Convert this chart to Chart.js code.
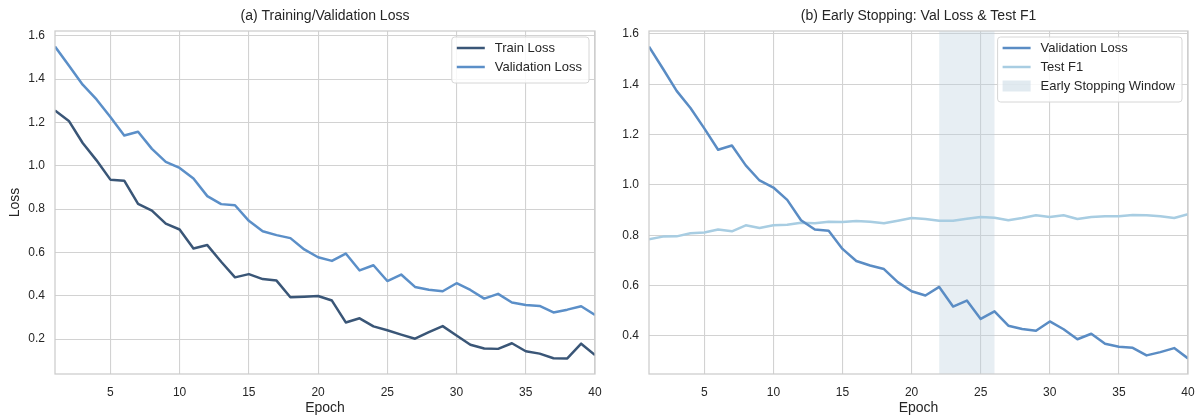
<!DOCTYPE html>
<html lang="en">
<head>
<meta charset="UTF-8">
<title>Training / Early Stopping</title>
<script src="https://cdn.jsdelivr.net/npm/chart.js"></script>
<style>
  html, body { margin: 0; padding: 0; background: #fff; }
  #wrap { position: relative; width: 1198px; height: 416px; overflow: hidden; }
  canvas { position: absolute; top: 0; }
  #chartA { left: 0; }
  #chartB { left: 598px; }
</style>
</head>
<body>
<div id="wrap">
  <canvas id="chartA" width="612" height="416"></canvas>
  <canvas id="chartB" width="600" height="416"></canvas>
</div>
<script>
// data
const epochs = [1,2,3,4,5,6,7,8,9,10,11,12,13,14,15,16,17,18,19,20,
                21,22,23,24,25,26,27,28,29,30,31,32,33,34,35,36,37,38,39,40];
const trainLoss = [1.255,1.207,1.105,1.025,0.936,0.931,0.824,0.793,0.733,0.706,
                   0.618,0.634,0.557,0.485,0.500,0.477,0.470,0.393,0.396,0.399,
                   0.378,0.277,0.296,0.259,0.241,0.221,0.202,0.232,0.260,0.217,
                   0.174,0.157,0.155,0.181,0.144,0.133,0.112,0.111,0.179,0.126];
const valLoss = [1.550,1.463,1.374,1.306,1.225,1.140,1.157,1.078,1.018,0.990,
                 0.941,0.860,0.823,0.818,0.746,0.698,0.680,0.666,0.614,0.578,
                 0.561,0.595,0.517,0.541,0.468,0.498,0.441,0.428,0.421,0.458,
                 0.427,0.387,0.409,0.369,0.357,0.353,0.323,0.336,0.352,0.311];
const testF1 = [0.784,0.795,0.796,0.808,0.811,0.823,0.816,0.840,0.829,0.840,
                0.842,0.850,0.848,0.854,0.853,0.857,0.854,0.848,0.858,0.869,
                0.865,0.858,0.858,0.866,0.873,0.870,0.860,0.869,0.880,0.873,
                0.880,0.865,0.873,0.876,0.876,0.881,0.880,0.876,0.869,0.884];
const stopWindow = [22, 26];
const xTicks = [5, 10, 15, 20, 25, 30, 35, 40];
const yTicksA = [0.2, 0.4, 0.6, 0.8, 1.0, 1.2, 1.4, 1.6];
const yTicksB = [0.4, 0.6, 0.8, 1.0, 1.2, 1.4, 1.6];

const FONT = 'Arial, "Liberation Sans", sans-serif';
const TXT = '#262626';
const GRID = '#d2d2d2';
const C_TRAIN = '#3a5677';
const C_VAL = '#5b8fc8';
const C_VAL_B = '#5a8cc4';
const C_F1 = '#a8cde2';
const C_SPAN = 'rgba(188,208,222,0.36)';

function pts(ys) { return ys.map((y, i) => ({ x: epochs[i], y: y })); }

// matplotlib style autoscale: 5% margin around the data
function padRange(arrs) {
  const all = [].concat(...arrs);
  const lo = Math.min(...all), hi = Math.max(...all);
  const m = (hi - lo) * 0.05;
  return [lo - m, hi + m];
}

// frame, span, titles and an in-axes legend, drawn matplotlib-like
const decor = {
  id: 'decor',
  beforeDatasetsDraw(chart, args, o) {
    const { ctx, chartArea: a, scales: { x } } = chart;
    if (o.span) {
      const x0 = x.getPixelForValue(o.span[0]);
      const x1 = x.getPixelForValue(o.span[1]);
      ctx.save();
      ctx.fillStyle = C_SPAN;
      ctx.fillRect(x0, a.top, x1 - x0, a.bottom - a.top);
      ctx.restore();
    }
  },
  afterDraw(chart, args, o) {
    const { ctx, chartArea: a } = chart;
    ctx.save();
    ctx.strokeStyle = '#cccccc';
    ctx.lineWidth = 1.25;
    ctx.strokeRect(a.left, a.top, a.right - a.left, a.bottom - a.top);

    ctx.fillStyle = TXT;
    ctx.font = '14px ' + FONT;
    ctx.textAlign = 'center';
    ctx.textBaseline = 'middle';
    ctx.fillText(o.title, (a.left + a.right) / 2, 16);
    ctx.fillText('Epoch', (a.left + a.right) / 2, 408);
    if (o.yTitle) {
      ctx.save();
      ctx.translate(15, (a.top + a.bottom) / 2);
      ctx.rotate(-Math.PI / 2);
      ctx.fillText(o.yTitle, 0, 0);
      ctx.restore();
    }

    // legend
    ctx.font = '13px ' + FONT;
    const w = Math.max(...o.items.map(it => ctx.measureText(it.label).width));
    const bw = 5 + 28 + 10 + w + 7;
    const bh = 8 + o.items.length * 19;
    const bx = a.right - 6 - bw, by = a.top + 6;
    ctx.beginPath();
    ctx.roundRect(bx, by, bw, bh, 3);
    ctx.fillStyle = 'rgba(255,255,255,0.85)';
    ctx.fill();
    ctx.strokeStyle = '#d6d6d6';
    ctx.lineWidth = 1;
    ctx.stroke();
    o.items.forEach((it, i) => {
      const cy = by + 11 + i * 19;
      if (it.patch) {
        ctx.fillStyle = it.color;
        ctx.fillRect(bx + 5, cy - 5.5, 28, 11);
      } else {
        ctx.strokeStyle = it.color;
        ctx.lineWidth = 2.5;
        ctx.beginPath();
        ctx.moveTo(bx + 5, cy);
        ctx.lineTo(bx + 33, cy);
        ctx.stroke();
      }
      ctx.fillStyle = TXT;
      ctx.textAlign = 'left';
      ctx.fillText(it.label, bx + 43, cy + 0.5);
    });
    ctx.restore();
  }
};

function lineSet(label, ys, color) {
  return {
    label: label, data: pts(ys), borderColor: color, backgroundColor: color,
    borderWidth: 2.5, pointRadius: 0, tension: 0, borderJoinStyle: 'round'
  };
}

function makeOptions(yRange, yTicks, yWidth, padRight, deco) {
  return {
    responsive: false,
    animation: false,
    layout: { padding: { top: 31, right: padRight, bottom: 0, left: 0 } },
    plugins: { legend: { display: false }, tooltip: { enabled: false }, decor: deco },
    scales: {
      x: {
        type: 'linear', min: 1, max: 40,
        afterBuildTicks: s => { s.ticks = xTicks.map(v => ({ value: v })); },
        // fixed axis band; label overflow handled by the layout padding
        afterFit: s => { s.height = 42; s.paddingLeft = 0; s.paddingRight = 0; },
        grid: { color: GRID, lineWidth: 1.1, drawTicks: false },
        border: { display: false },
        ticks: { color: TXT, font: { size: 12, family: FONT }, padding: 11, maxRotation: 0 }
      },
      y: {
        type: 'linear', min: yRange[0], max: yRange[1],
        afterBuildTicks: s => { s.ticks = yTicks.map(v => ({ value: v })); },
        afterFit: s => { s.width = yWidth; },
        grid: { color: GRID, lineWidth: 1.1, drawTicks: false },
        border: { display: false },
        ticks: { color: TXT, font: { size: 12, family: FONT }, padding: 10,
                 callback: v => Number(v).toFixed(1) }
      }
    }
  };
}

new Chart(document.getElementById('chartA'), {
  type: 'line',
  data: { datasets: [lineSet('Train Loss', trainLoss, C_TRAIN), lineSet('Validation Loss', valLoss, C_VAL)] },
  options: makeOptions(padRange([trainLoss, valLoss]), yTicksA, 55, 17, {
    title: '(a) Training/Validation Loss',
    yTitle: 'Loss',
    items: [{ label: 'Train Loss', color: C_TRAIN }, { label: 'Validation Loss', color: C_VAL }]
  }),
  plugins: [decor]
});

new Chart(document.getElementById('chartB'), {
  type: 'line',
  data: { datasets: [lineSet('Validation Loss', valLoss, C_VAL_B), lineSet('Test F1', testF1, C_F1)] },
  options: makeOptions(padRange([valLoss, testF1]), yTicksB, 51, 10, {
    title: '(b) Early Stopping: Val Loss & Test F1',
    span: stopWindow,
    items: [{ label: 'Validation Loss', color: C_VAL_B }, { label: 'Test F1', color: C_F1 },
            { label: 'Early Stopping Window', color: 'rgba(188,208,222,0.45)', patch: true }]
  }),
  plugins: [decor]
});
</script>
</body>
</html>
